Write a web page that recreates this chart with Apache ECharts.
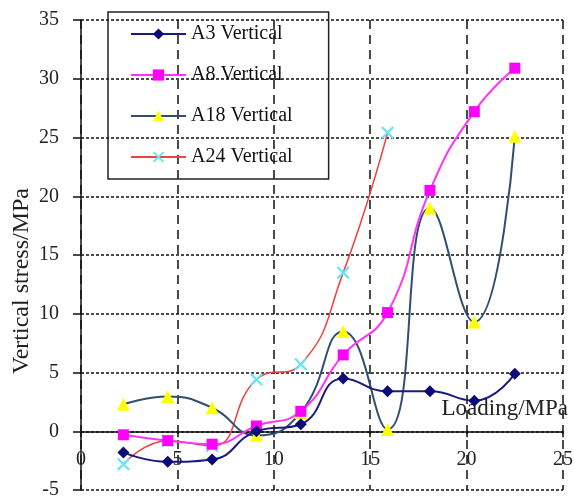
<!DOCTYPE html>
<html><head><meta charset="utf-8">
<script src="https://cdn.jsdelivr.net/npm/echarts@6/dist/echarts.min.js"></script>
<style>html,body{margin:0;padding:0;background:#fff}#c{width:574px;height:500px}</style>
</head><body><div id="c"></div>
<script>
var loading = [2.2, 4.5, 6.8, 9.1, 11.4, 13.6, 15.9, 18.1, 20.4, 22.5];
var a3 = [-1.8, -2.6, -2.4, 0.0, 0.6, 4.5, 3.4, 3.4, 2.6, 4.9];
var a8 = [-0.3, -0.8, -1.1, 0.45, 1.7, 6.5, 10.1, 20.5, 27.2, 30.9];
var a18 = [2.3, 2.95, 2.0, -0.35, 1.6, 8.5, 0.15, 19.0, 9.3, 25.1];
var a24 = [-2.8, -0.8, -1.25, 4.4, 5.7, 13.5, 25.4];
var names = ['A3 Vertical', 'A8 Vertical', 'A18 Vertical', 'A24 Vertical'];
var xTicks = [0, 5, 10, 15, 20, 25];
var yTicks = [-5, 0, 5, 10, 15, 20, 25, 30, 35];

function pairs(ys) { return ys.map(function (v, i) { return [loading[i], v]; }); }
var serif = '"Liberation Serif", "Times New Roman", serif';
var xPath = 'path://M0,1.2L1.2,0L5,3.8L8.8,0L10,1.2L6.2,5L10,8.8L8.8,10L5,6.2L1.2,10L0,8.8L3.8,5Z';

var chart = echarts.init(document.getElementById('c'));
chart.setOption({
  animation: false,
  grid: { left: 81, right: 11, top: 20, bottom: 10, containLabel: false, outerBoundsMode: 'none' },
  legend: {
    orient: 'vertical', left: 108, top: 12,
    padding: [12, 36, 12, 22], itemGap: 21,
    itemWidth: 55, itemHeight: 14,
    borderColor: '#222', borderWidth: 1.5,
    textStyle: { fontFamily: serif, fontSize: 20, color: '#111' },
    data: names
  },
  xAxis: {
    type: 'value', min: 0, max: 25, interval: 5,
    offset: -58.75,
    axisLine: { onZero: false, lineStyle: { color: '#111', width: 1.5 } },
    axisTick: { show: true, length: 6, lineStyle: { color: '#111', width: 1.5 } },
    axisLabel: { margin: 18, fontFamily: serif, fontSize: 20, color: '#222',
      formatter: function (v) { return xTicks.indexOf(v) >= 0 ? String(v) : ''; } },
    splitLine: { show: true, lineStyle: { color: '#111', width: 1.5, type: [9, 6] } },
    name: 'Loading/MPa', nameLocation: 'end', nameGap: 5,
    nameTextStyle: { fontFamily: serif, fontSize: 23, color: '#222', align: 'right', verticalAlign: 'bottom', padding: [0, 0, 11, 0] }
  },
  yAxis: {
    type: 'value', min: -5, max: 35, interval: 5,
    axisLine: { show: true, onZero: false, lineStyle: { color: '#111', width: 1.5 } },
    axisTick: { show: true, length: 8, lineStyle: { color: '#111', width: 1.5 } },
    axisLabel: { margin: 22, fontFamily: serif, fontSize: 20, color: '#222',
      formatter: function (v) { return yTicks.indexOf(v) >= 0 ? String(v) : ''; } },
    splitLine: { show: true, lineStyle: { color: '#111', width: 1.5, type: [3, 2] } }
  },
  graphic: [{
    type: 'text', left: 10, top: 188, rotation: Math.PI / 2,
    style: { text: 'Vertical stress/MPa', fontFamily: serif, fontSize: 24, fill: '#222' }
  }],
  series: [
    { name: names[0], type: 'line', smooth: 0.5, data: pairs(a3),
      symbol: 'diamond', symbolSize: 12,
      lineStyle: { color: '#1a1a80', width: 2 }, itemStyle: { color: '#0b0b7a' }, z: 5 },
    { name: names[1], type: 'line', smooth: 0.5, data: pairs(a8),
      symbol: 'rect', symbolSize: 11,
      lineStyle: { color: '#ff33ff', width: 2 }, itemStyle: { color: '#ff00ff' }, z: 4 },
    { name: names[2], type: 'line', smooth: 0.5, data: pairs(a18),
      symbol: 'triangle', symbolSize: 13,
      lineStyle: { color: '#2f4f70', width: 2 }, itemStyle: { color: '#ffff00' }, z: 3 },
    { name: names[3], type: 'line', smooth: 0.5, data: pairs(a24),
      symbol: xPath, symbolSize: 13,
      lineStyle: { color: '#f04040', width: 1.5 }, itemStyle: { color: '#66e6f0' }, z: 2 }
  ]
});
</script></body></html>
